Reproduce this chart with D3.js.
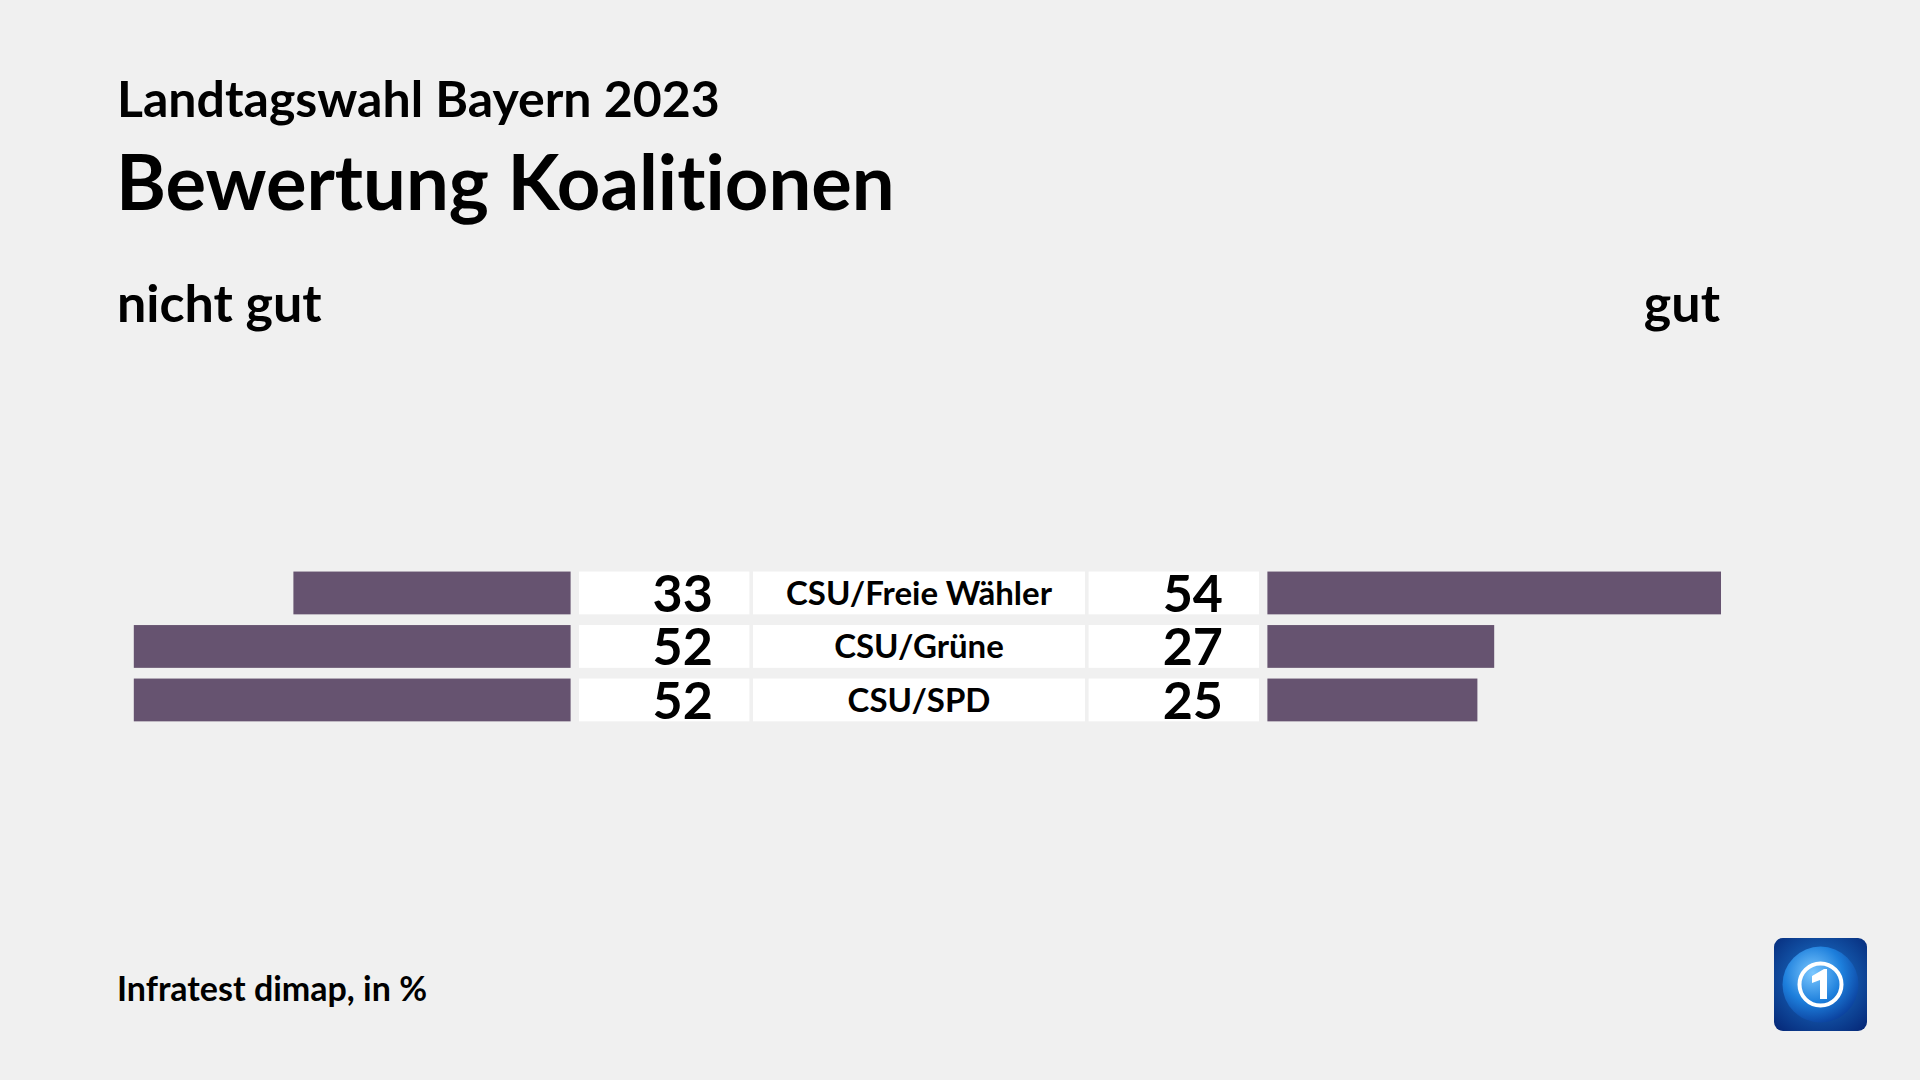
<!DOCTYPE html>
<html>
<head>
<meta charset="utf-8">
<script src="https://cdn.jsdelivr.net/npm/d3@7"></script>
<style>
  html, body { margin: 0; padding: 0; background: #f0f0f0; }
  svg { display: block; }
  text { font-family: Lato, "Noto Sans", sans-serif; fill: #000; font-variant-ligatures: none; font-feature-settings: "liga" 0; }
</style>
</head>
<body>
<svg id="chart" width="1920" height="1080"></svg>
<script>
// ---- data ----
const categories = ["CSU/Freie Wähler", "CSU/Grüne", "CSU/SPD"];
const nichtGut = [33, 52, 52];
const gut = [54, 27, 25];
const subtitle = "Landtagswahl Bayern 2023";
const title = "Bewertung Koalitionen";
const leftHeader = "nicht gut";
const rightHeader = "gut";
const source = "Infratest dimap, in %";

const rows = categories.map((c, i) => ({ cat: c, left: nichtGut[i], right: gut[i] }));

const W = 1920, H = 1080;
const svg = d3.select("#chart");
const barColor = "#665370";

svg.append("rect").attr("width", W).attr("height", H).attr("fill", "#f0f0f0");

// titles
svg.append("text").attr("x", 117).attr("y", 117)
  .attr("font-size", 50).attr("font-weight", 700).text(subtitle);
svg.append("text").attr("x", 116).attr("y", 210)
  .attr("font-size", 76).attr("font-weight", 700).text(title);
svg.append("text").attr("x", 117).attr("y", 322)
  .attr("font-size", 52).attr("font-weight", 700).text(leftHeader);
svg.append("text").attr("x", 1720).attr("y", 322).attr("text-anchor", "end")
  .attr("font-size", 52).attr("font-weight", 700).text(rightHeader);
svg.append("text").attr("x", 117).attr("y", 1001)
  .attr("font-size", 34).attr("font-weight", 700).text(source);

// scales
const y = d3.scaleBand().domain(categories).range([566.2, 726.7])
  .paddingInner(0.2).paddingOuter(0.1);
const xLen = d3.scaleLinear().domain([0, 100]).range([0, 840]);

const leftEnd = 570.6;
const rightStart = 1267.4;
const leftBox = { x0: 579, x1: 749.4 };
const labelBox = { x0: 753, x1: 1085 };
const rightBox = { x0: 1088.6, x1: 1259 };

const g = svg.append("g");
const row = g.selectAll("g.row").data(rows).join("g").attr("class", "row");

row.append("rect")
  .attr("x", d => leftEnd - xLen(d.left))
  .attr("y", d => y(d.cat))
  .attr("width", d => xLen(d.left))
  .attr("height", y.bandwidth())
  .attr("fill", barColor);

row.append("rect")
  .attr("x", rightStart)
  .attr("y", d => y(d.cat))
  .attr("width", d => xLen(d.right))
  .attr("height", y.bandwidth())
  .attr("fill", barColor);

[leftBox, labelBox, rightBox].forEach(b => {
  row.append("rect")
    .attr("x", b.x0).attr("y", d => y(d.cat))
    .attr("width", b.x1 - b.x0).attr("height", y.bandwidth())
    .attr("fill", "#ffffff");
});

row.append("text")
  .attr("x", leftBox.x1 - 36.5)
  .attr("y", d => y(d.cat) + y.bandwidth() / 2 + 19)
  .attr("text-anchor", "end").attr("font-size", 52).attr("font-weight", 700)
  .text(d => d.left);

row.append("text")
  .attr("x", rightBox.x1 - 36)
  .attr("y", d => y(d.cat) + y.bandwidth() / 2 + 19)
  .attr("text-anchor", "end").attr("font-size", 52).attr("font-weight", 700)
  .text(d => d.right);

row.append("text")
  .attr("x", (labelBox.x0 + labelBox.x1) / 2)
  .attr("y", d => y(d.cat) + y.bandwidth() / 2 + 12)
  .attr("text-anchor", "middle").attr("font-size", 33).attr("font-weight", 700)
  .text(d => d.cat);

// logo
const defs = svg.append("defs");
const bg = defs.append("radialGradient").attr("id", "logoBg").attr("cx", "50%").attr("cy", "45%").attr("r", "70%");
bg.append("stop").attr("offset", "0%").attr("stop-color", "#1f7fd6");
bg.append("stop").attr("offset", "100%").attr("stop-color", "#062a7a");
const gl = defs.append("radialGradient").attr("id", "globe").attr("cx", "40%").attr("cy", "35%").attr("r", "70%");
gl.append("stop").attr("offset", "0%").attr("stop-color", "#7cc8ff");
gl.append("stop").attr("offset", "55%").attr("stop-color", "#1d7fdc");
gl.append("stop").attr("offset", "100%").attr("stop-color", "#0a3d9a");

const logo = svg.append("g").attr("transform", "translate(1774,938)");
logo.append("rect").attr("width", 93).attr("height", 93).attr("rx", 9).attr("fill", "url(#logoBg)");
logo.append("circle").attr("cx", 46.5).attr("cy", 46.5).attr("r", 38).attr("fill", "url(#globe)");
logo.append("circle").attr("cx", 46.5).attr("cy", 46.5).attr("r", 21).attr("fill", "none")
  .attr("stroke", "#ffffff").attr("stroke-width", 4);
logo.append("path")
  .attr("d", "M38,38 L50,31 L53,31 L53,61 L46,61 L46,42 L38,45 Z")
  .attr("fill", "#ffffff");
</script>
</body>
</html>
